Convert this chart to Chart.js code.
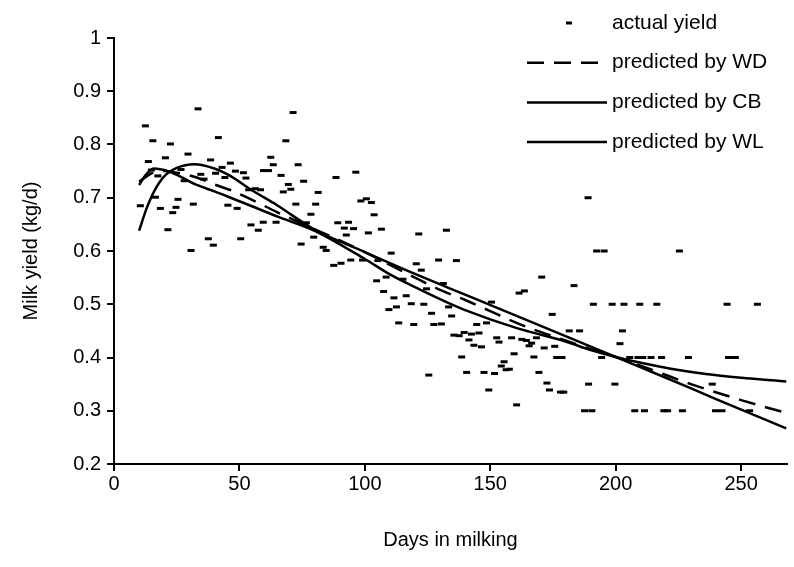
<!DOCTYPE html>
<html><head><meta charset="utf-8">
<script src="https://cdn.jsdelivr.net/npm/chart.js@4.4.0/dist/chart.umd.min.js"></script>
<style>html,body{margin:0;padding:0;background:#fff}#wrap{width:794px;height:567px;position:relative}</style>
</head><body><div id="wrap"><canvas id="c" width="794" height="567"></canvas></div>
<script>
const xTickValues = [0, 50, 100, 150, 200, 250];
const xTickLabels = ['0', '50', '100', '150', '200', '250'];
const yTickValues = [0.2, 0.3, 0.4, 0.5, 0.6, 0.7, 0.8, 0.9, 1.0];
const yTickLabels = ['0.2', '0.3', '0.4', '0.5', '0.6', '0.7', '0.8', '0.9', '1'];
const seriesNames = ['actual yield', 'predicted by WD', 'predicted by CB', 'predicted by WL'];

const actualDays = [33.5,12.5,15.5,22.5,41.6,29.5,20.5,13.7,38.5,43.1,46.4,48.4,40.5,44.2,34.6,26.7,14.9,17.5,28.0,35.9,16.5,10.5,18.5,24.7,25.5,23.4,31.6,45.4,49.1,21.5,
30.7,37.6,39.6,50.5,54.6,57.5,59.5,64.6,72.5,80.4,78.5,76.7,79.6,74.6,83.4,84.6,87.6,89.2,
71.4,68.5,62.5,63.5,51.6,52.6,59.6,61.6,66.6,73.4,69.5,70.5,67.5,75.6,81.4,56.3,58.4,53.7,88.5,96.4,98.4,100.6,102.6,91.8,93.5,95.5,
103.7,92.6,101.4,106.6,121.5,132.5,90.5,94.4,99.1,105.2,110.5,120.5,122.5,129.4,136.5,104.7,108.5,115.2,107.5,111.6,116.5,124.6,109.6,112.6,118.5,123.5,113.5,119.5,126.6,127.5,130.5,131.3,133.4,134.6,
125.5,135.5,137.6,139.6,142.5,145.5,141.5,143.5,146.5,144.6,148.5,150.5,138.6,140.6,147.5,151.7,149.4,152.6,153.5,158.5,159.5,155.5,154.4,156.3,157.6,160.5,162.6,164.4,166.5,165.5,168.4,167.4,169.4,171.5,175.7,174.7,172.6,173.6,178.0,179.3,176.5,178.6,181.5,185.6,189.2,187.6,190.5,191.1,
170.5,183.4,161.5,163.6,
189.0,192.4,195.4,225.4,198.6,203.3,209.6,216.4,244.4,256.5,202.7,201.7,194.4,205.6,208.9,210.8,214.1,218.3,229.0,245.0,247.7,199.7,238.5,207.6,211.5,219.2,220.7,226.6,239.8,242.4,253.4];
const actualYield = [0.867,0.835,0.807,0.801,0.813,0.782,0.775,0.768,0.771,0.757,0.765,0.750,0.746,0.738,0.744,0.753,0.752,0.741,0.732,0.735,0.701,0.685,0.680,0.682,0.697,0.672,0.688,0.686,0.680,0.640,
0.601,0.623,0.611,0.623,0.649,0.639,0.654,0.654,0.688,0.688,0.669,0.653,0.626,0.613,0.607,0.601,0.573,0.653,
0.860,0.807,0.776,0.762,0.747,0.737,0.751,0.751,0.742,0.762,0.725,0.716,0.711,0.731,0.710,0.717,0.715,0.715,0.738,0.748,0.694,0.698,0.691,0.643,0.654,0.642,
0.668,0.630,0.634,0.641,0.632,0.639,0.577,0.583,0.583,0.582,0.596,0.576,0.564,0.583,0.582,0.544,0.551,0.547,0.524,0.512,0.516,0.529,0.490,0.495,0.501,0.500,0.465,0.462,0.483,0.462,0.463,0.539,0.495,0.478,
0.367,0.442,0.441,0.447,0.444,0.446,0.433,0.423,0.420,0.462,0.465,0.504,0.401,0.372,0.372,0.370,0.339,0.437,0.429,0.437,0.407,0.392,0.384,0.377,0.378,0.311,0.434,0.432,0.427,0.422,0.437,0.401,0.372,0.418,0.421,0.481,0.352,0.339,0.335,0.335,0.4,0.4,0.45,0.45,0.35,0.3,0.3,0.5,
0.551,0.535,0.521,0.525,
0.7,0.6,0.6,0.6,0.5,0.5,0.5,0.5,0.5,0.5,0.45,0.426,0.4,0.4,0.4,0.4,0.4,0.4,0.4,0.4,0.4,0.35,0.35,0.3,0.3,0.3,0.3,0.3,0.3,0.3,0.3];

const wdDays = [10,15,20,25,33,40,46,55,65,78,90,100,110,120,130,140,150,160,170,180,190,200,215,230,250,268];
const wdYield = [0.730,0.746,0.750,0.747,0.738,0.725,0.715,0.696,0.673,0.645,0.620,0.598,0.574,0.550,0.527,0.508,0.487,0.466,0.448,0.432,0.416,0.401,0.376,0.350,0.320,0.296];
const cbDays = [10,13,16,20,25,32,40,46,55,65,80,100,120,140,160,180,200,220,240,268];
const cbYield = [0.638,0.680,0.712,0.740,0.756,0.763,0.755,0.742,0.714,0.686,0.640,0.598,0.557,0.518,0.479,0.440,0.401,0.362,0.322,0.267];
const wlDays = [10,13,16,20,25,33,40,46,55,65,80,100,110,120,133,140,160,180,190,200,210,222,236,250,268];
const wlYield = [0.724,0.745,0.755,0.752,0.743,0.724,0.712,0.701,0.684,0.665,0.638,0.585,0.556,0.532,0.503,0.489,0.456,0.430,0.414,0.401,0.390,0.379,0.369,0.362,0.355];

const pts = (xs, ys) => xs.map((x, i) => ({x: x, y: ys[i]}));
const FONT = '"Liberation Sans", Arial, Helvetica, sans-serif';
Chart.defaults.font.family = FONT;
Chart.defaults.font.size = 20;
Chart.defaults.color = '#000';

const legendPlugin = {
  id: 'sideLegend',
  afterDraw(chart, args, opts) {
    const ctx = chart.ctx;
    ctx.save();
    ctx.font = '21px ' + FONT;
    ctx.fillStyle = '#000';
    ctx.strokeStyle = '#000';
    ctx.textBaseline = 'middle';
    chart.data.datasets.forEach((ds, i) => {
      const y = opts.top + i * opts.rowGap;
      if (ds.showLine === false) {
        ctx.lineWidth = 3;
        ctx.beginPath();
        ctx.moveTo(opts.markerX - 3, y); ctx.lineTo(opts.markerX + 3, y);
        ctx.stroke();
      } else {
        ctx.lineWidth = ds.borderWidth;
        ctx.setLineDash(ds.borderDash || []);
        ctx.beginPath();
        ctx.moveTo(opts.lineX0, y);
        ctx.lineTo(ds.borderDash ? opts.lineX0 + 72 : opts.lineX1, y);
        ctx.stroke();
        ctx.setLineDash([]);
      }
      ctx.fillText(ds.label, opts.textX, y);
    });
    ctx.restore();
  }
};

new Chart(document.getElementById('c'), {
  type: 'scatter',
  data: {
    datasets: [
      { label: seriesNames[0], data: pts(actualDays, actualYield), showLine: false,
        pointStyle: 'line', pointRadius: 3.5, pointBorderWidth: 3, pointBorderColor: '#000', borderColor: '#000', backgroundColor: '#000' },
      { label: seriesNames[1], data: pts(wdDays, wdYield), showLine: true, borderColor: '#000', borderWidth: 2.5,
        borderDash: [17, 10], pointRadius: 0, cubicInterpolationMode: 'monotone' },
      { label: seriesNames[2], data: pts(cbDays, cbYield), showLine: true, borderColor: '#000', borderWidth: 2.5,
        pointRadius: 0, cubicInterpolationMode: 'monotone' },
      { label: seriesNames[3], data: pts(wlDays, wlYield), showLine: true, borderColor: '#000', borderWidth: 2.5,
        pointRadius: 0, cubicInterpolationMode: 'monotone' }
    ]
  },
  options: {
    responsive: false,
    animation: false,
    events: [],
    layout: { padding: { left: 0, right: 0, top: 38, bottom: 0 } },
    plugins: {
      legend: { display: false },
      tooltip: { enabled: false },
      sideLegend: { top: 23, rowGap: 39.7, markerX: 569, lineX0: 527, lineX1: 607, textX: 612 }
    },
    scales: {
      x: {
        type: 'linear', min: 0, max: 268.3,
        afterBuildTicks: s => { s.ticks = xTickValues.map(v => ({value: v})); },
        afterFit: s => { s.height = 103; },
        ticks: { callback: (v, i) => xTickLabels[i], color: '#000', padding: 1, maxRotation: 0, autoSkip: false, font: { size: 20 } },
        grid: { drawOnChartArea: false, drawTicks: true, tickLength: 7, color: '#000', lineWidth: 2 },
        border: { display: true, color: '#000', width: 2 },
        title: { display: true, text: 'Days in milking', color: '#000', font: { size: 20 }, padding: { top: 0, bottom: 15 } }
      },
      y: {
        type: 'linear', min: 0.2, max: 1.0,
        afterBuildTicks: s => { s.ticks = yTickValues.map(v => ({value: v})); },
        afterFit: s => { s.width = 114; },
        ticks: { callback: (v, i) => yTickLabels[i], color: '#000', padding: 6, font: { size: 20 } },
        grid: { drawOnChartArea: false, drawTicks: true, tickLength: 7, color: '#000', lineWidth: 2 },
        border: { display: true, color: '#000', width: 2 },
        title: { display: true, text: 'Milk yield (kg/d)', color: '#000', font: { size: 20 }, padding: { top: 19, bottom: 0 } }
      }
    }
  },
  plugins: [legendPlugin]
});
</script>
</body></html>
